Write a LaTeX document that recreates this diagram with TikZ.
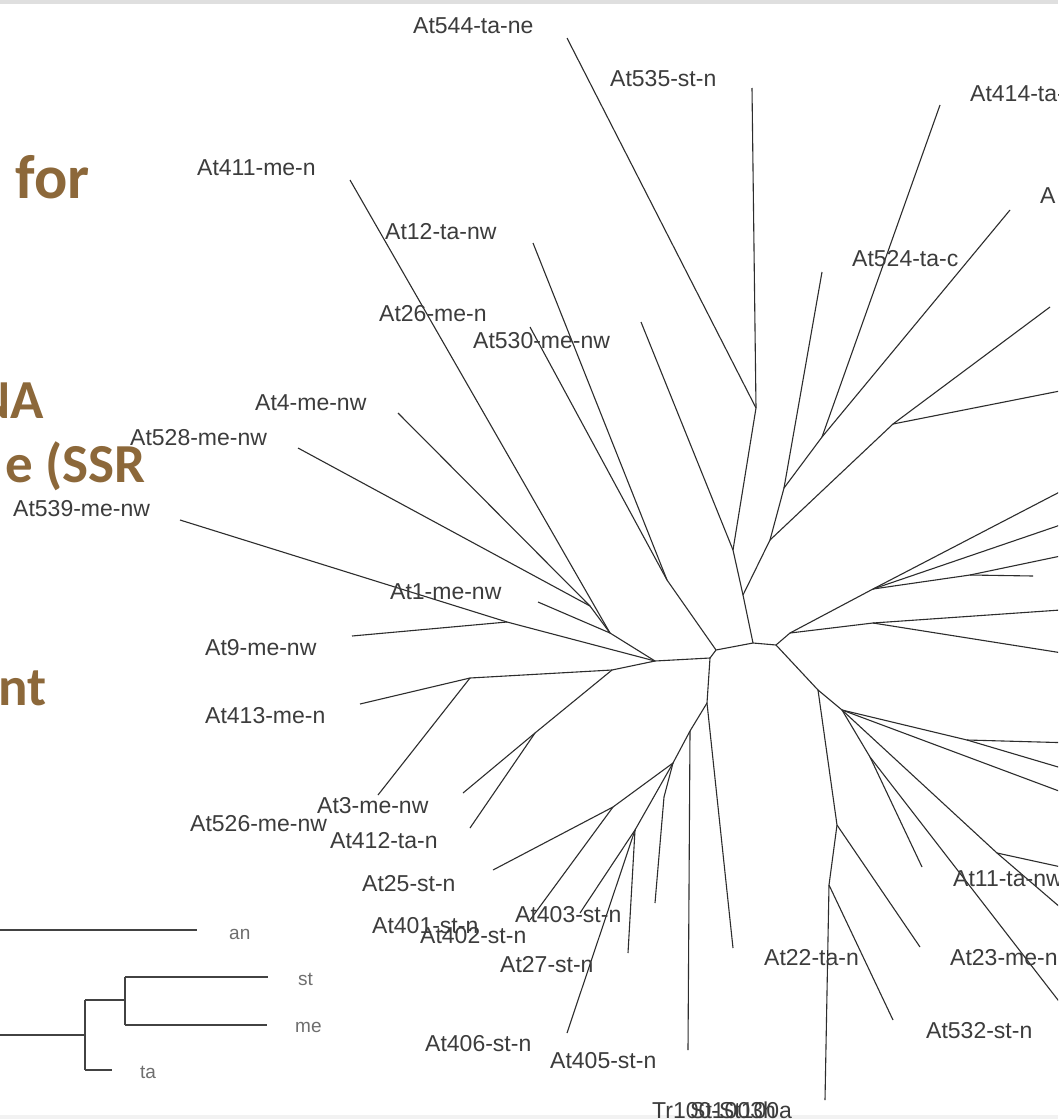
\documentclass[tikz,border=0pt]{standalone}
\usepackage{fontspec}
\setmainfont{Liberation Sans}
\newfontfamily\titlefont{Carlito}
\definecolor{titlebrown}{RGB}{140,104,58}
\definecolor{treeline}{RGB}{45,45,45}
\definecolor{labelgray}{RGB}{60,60,60}
\definecolor{leggray}{RGB}{110,110,110}
\begin{document}
\begin{tikzpicture}[x=1pt,y=-1pt,
  br/.style={draw=treeline, line width=1.1pt},
  lg/.style={draw=treeline!90, line width=2.2pt},
  lab/.style={font=\fontsize{23}{25}\selectfont, text=labelgray, inner sep=0pt, anchor=base west},
  leglab/.style={font=\fontsize{19}{22}\selectfont, text=leggray, inner sep=0pt, anchor=base west},
  ttl/.style={font=\titlefont\bfseries\fontsize{55}{60}\selectfont, text=titlebrown, inner sep=0pt, anchor=base east}]
\useasboundingbox (0,0) rectangle (1058,1119);
\clip (0,0) rectangle (1058,1119);
\fill[white] (0,0) rectangle (1058,1119);
\fill[gray!25] (0,0) rectangle (1058,4);
\fill[gray!10] (0,1115) rectangle (1058,1119);

% title fragments
\node[ttl, font=\titlefont\bfseries\fontsize{62}{66}\selectfont] (tfor) at (90,198) {for};
\node[ttl] (tna) at (44,418) {NA};
\node[ttl] (tssr) at (146,482) {e (SSR};
\node[ttl] (tnt) at (47,705) {nt};

% ---------- coordinates: centre ----------
\coordinate (C1) at (716,650);
\coordinate (C1b) at (710,658);
\coordinate (C2) at (753,643);
\coordinate (C3) at (776,645);
% upper
\coordinate (U1) at (743,595);
\coordinate (U2) at (733,550);
\coordinate (U3) at (756,408);
\coordinate (U4) at (770,540);
\coordinate (U5) at (784,488);
\coordinate (U6) at (822,437);
\coordinate (U7) at (893,424);
\coordinate (t544) at (567,38);
\coordinate (t535) at (752,88);
\coordinate (t530) at (641,322);
\coordinate (t524) at (822,272);
\coordinate (t414) at (940,105);
\coordinate (tA) at (1010,210);
\coordinate (tR1) at (1050,307);
\coordinate (tR2) at (1075,388);
% upper left
\coordinate (L1) at (667,580);
\coordinate (t12) at (533,243);
\coordinate (t26) at (530,327);
% left
\coordinate (L2) at (655,661);
\coordinate (L3) at (610,633);
\coordinate (L4) at (590,606);
\coordinate (t411) at (350,180);
\coordinate (t4) at (398,413);
\coordinate (t528) at (298,448);
\coordinate (tS1) at (538,602);
\coordinate (L5) at (507,622);
\coordinate (t539) at (180,520);
\coordinate (t9) at (352,636);
\coordinate (L7) at (612,670);
\coordinate (L8) at (470,678);
\coordinate (t413) at (360,704);
\coordinate (t3) at (378,795);
\coordinate (L9) at (535,733);
\coordinate (tS2) at (463,793);
\coordinate (t412) at (470,828);
% down
\coordinate (D1) at (707,703);
\coordinate (D7) at (690,731);
\coordinate (D2) at (673,763);
\coordinate (D3) at (613,807);
\coordinate (D4) at (664,797);
\coordinate (D5) at (635,830);
\coordinate (tTr) at (688,1050);
\coordinate (t733) at (733,948);
\coordinate (t25) at (493,870);
\coordinate (t401) at (530,920);
\coordinate (t403) at (580,913);
\coordinate (tV1) at (655,903);
\coordinate (t405) at (567,1033);
\coordinate (tV2) at (628,953);
% right
\coordinate (R1) at (790,633);
\coordinate (R3) at (873,589);
\coordinate (R4) at (970,575);
\coordinate (R2) at (873,623);
\coordinate (tE1) at (1075,484);
\coordinate (tE2) at (1075,520);
\coordinate (tE3) at (1075,553);
\coordinate (tS3) at (1033,576);
\coordinate (tE4) at (1075,609);
\coordinate (tE5) at (1075,655);
% right lower
\coordinate (R5) at (818,690);
\coordinate (R7) at (837,825);
\coordinate (R8) at (829,885);
\coordinate (tB) at (825,1100);
\coordinate (t947) at (920,947);
\coordinate (t532) at (893,1020);
\coordinate (R9) at (842,710);
\coordinate (R10) at (870,757);
\coordinate (t867) at (922,867);
\coordinate (tE6) at (1075,1022);
\coordinate (R12) at (967,740);
\coordinate (tE7) at (1075,743);
\coordinate (tE8) at (1075,772);
\coordinate (R13) at (997,853);
\coordinate (tE9) at (1075,870);
\coordinate (tE10) at (1075,920);
\coordinate (tE11) at (1075,797);

% ---------- branches ----------
\draw[br] (C1b) -- (C1) -- (C2) -- (C3);
\draw[br] (C2) -- (U1);
\draw[br] (U1) -- (U2);
\draw[br] (U2) -- (U3);
\draw[br] (U3) -- (t535);
\draw[br] (U3) -- (t544);
\draw[br] (U2) -- (t530);
\draw[br] (U1) -- (U4);
\draw[br] (U4) -- (U5);
\draw[br] (U5) -- (t524);
\draw[br] (U5) -- (U6);
\draw[br] (U6) -- (t414);
\draw[br] (U6) -- (tA);
\draw[br] (U4) -- (U7);
\draw[br] (U7) -- (tR1);
\draw[br] (U7) -- (tR2);
\draw[br] (C1) -- (L1);
\draw[br] (L1) -- (t12);
\draw[br] (L1) -- (t26);
\draw[br] (C1b) -- (L2);
\draw[br] (L2) -- (L3);
\draw[br] (L3) -- (L4);
\draw[br] (L4) -- (t4);
\draw[br] (L4) -- (t528);
\draw[br] (L3) -- (t411);
\draw[br] (L3) -- (tS1);
\draw[br] (L2) -- (L5);
\draw[br] (L5) -- (t539);
\draw[br] (L5) -- (t9);
\draw[br] (L2) -- (L7);
\draw[br] (L7) -- (L8);
\draw[br] (L8) -- (t413);
\draw[br] (L8) -- (t3);
\draw[br] (L7) -- (L9);
\draw[br] (L9) -- (tS2);
\draw[br] (L9) -- (t412);
\draw[br] (C1b) -- (D1);
\draw[br] (D1) -- (D7);
\draw[br] (D7) -- (D2);
\draw[br] (D7) -- (tTr);
\draw[br] (D1) -- (t733);
\draw[br] (D2) -- (D3);
\draw[br] (D3) -- (t25);
\draw[br] (D3) -- (t401);
\draw[br] (D2) -- (D4);
\draw[br] (D4) -- (tV1);
\draw[br] (D2) -- (D5);
\draw[br] (D5) -- (t403);
\draw[br] (D5) -- (t405);
\draw[br] (D5) -- (tV2);
\draw[br] (C3) -- (R1);
\draw[br] (R1) -- (R3);
\draw[br] (R3) -- (tE1);
\draw[br] (R3) -- (tE2);
\draw[br] (R3) -- (R4);
\draw[br] (R4) -- (tE3);
\draw[br] (R4) -- (tS3);
\draw[br] (R1) -- (R2);
\draw[br] (R2) -- (tE4);
\draw[br] (R2) -- (tE5);
\draw[br] (C3) -- (R5);
\draw[br] (R5) -- (R7);
\draw[br] (R7) -- (R8);
\draw[br] (R8) -- (tB);
\draw[br] (R7) -- (t947);
\draw[br] (R8) -- (t532);
\draw[br] (R5) -- (R9);
\draw[br] (R9) -- (R10);
\draw[br] (R10) -- (t867);
\draw[br] (R10) -- (tE6);
\draw[br] (R9) -- (R12);
\draw[br] (R12) -- (tE7);
\draw[br] (R12) -- (tE8);
\draw[br] (R9) -- (R13);
\draw[br] (R13) -- (tE9);
\draw[br] (R13) -- (tE10);
\draw[br] (R9) -- (tE11);

% ---------- tip labels ----------
\node[lab] (n544) at (413,33) {At544-ta-ne};
\node[lab] (n535) at (610,86) {At535-st-n};
\node[lab] (n414) at (970,101) {At414-ta-ne};
\node[lab] (nA) at (1040,203) {A};
\node[lab] (n411) at (197,175) {At411-me-n};
\node[lab] (n12) at (385,239) {At12-ta-nw};
\node[lab] (n524) at (852,266) {At524-ta-c};
\node[lab] (n26) at (379,321) {At26-me-n};
\node[lab] (n530) at (473,348) {At530-me-nw};
\node[lab] (n4) at (255,410) {At4-me-nw};
\node[lab] (n528) at (130,445) {At528-me-nw};
\node[lab] (n539) at (13,516) {At539-me-nw};
\node[lab] (n1) at (390,599) {At1-me-nw};
\node[lab] (n9) at (205,655) {At9-me-nw};
\node[lab] (n413) at (205,723) {At413-me-n};
\node[lab] (n3) at (317,813) {At3-me-nw};
\node[lab] (n526) at (190,831) {At526-me-nw};
\node[lab] (n412) at (330,848) {At412-ta-n};
\node[lab] (n25) at (362,891) {At25-st-n};
\node[lab] (n401) at (372,933) {At401-st-n};
\node[lab] (n402) at (420,943) {At402-st-n};
\node[lab] (n403) at (515,922) {At403-st-n};
\node[lab] (n27) at (500,972) {At27-st-n};
\node[lab] (n406) at (425,1051) {At406-st-n};
\node[lab] (n405) at (550,1068) {At405-st-n};
\node[lab] (nTr) at (652,1118) {Tr100-St100a};
\node[lab] (nTr2) at (690,1118) {St1003h};
\node[lab] (n22) at (764,965) {At22-ta-n};
\node[lab] (n532) at (926,1038) {At532-st-n};
\node[lab] (n23) at (950,965) {At23-me-n};
\node[lab] (n11) at (953,886) {At11-ta-nw};

% ---------- legend tree ----------
\coordinate (g0) at (-5,930);
\coordinate (gan) at (197,930);
\coordinate (g1) at (-5,1035);
\coordinate (gj) at (85,1035);
\coordinate (gt) at (85,1000);
\coordinate (gb) at (85,1070);
\coordinate (gta) at (112,1070);
\coordinate (gs) at (125,1000);
\coordinate (gst0) at (125,977);
\coordinate (gme0) at (125,1025);
\coordinate (gst) at (268,977);
\coordinate (gme) at (267,1025);
\draw[lg] (g0) -- (gan);
\draw[lg] (g1) -- (gj);
\draw[lg] (gt) -- (gb);
\draw[lg] (gt) -- (gs);
\draw[lg] (gst0) -- (gme0);
\draw[lg] (gst0) -- (gst);
\draw[lg] (gme0) -- (gme);
\draw[lg] (gb) -- (gta);
\node[leglab] (lan) at (229,939) {an};
\node[leglab] (lst) at (298,985) {st};
\node[leglab] (lme) at (295,1032) {me};
\node[leglab] (lta) at (140,1078) {ta};
\end{tikzpicture}
\end{document}
